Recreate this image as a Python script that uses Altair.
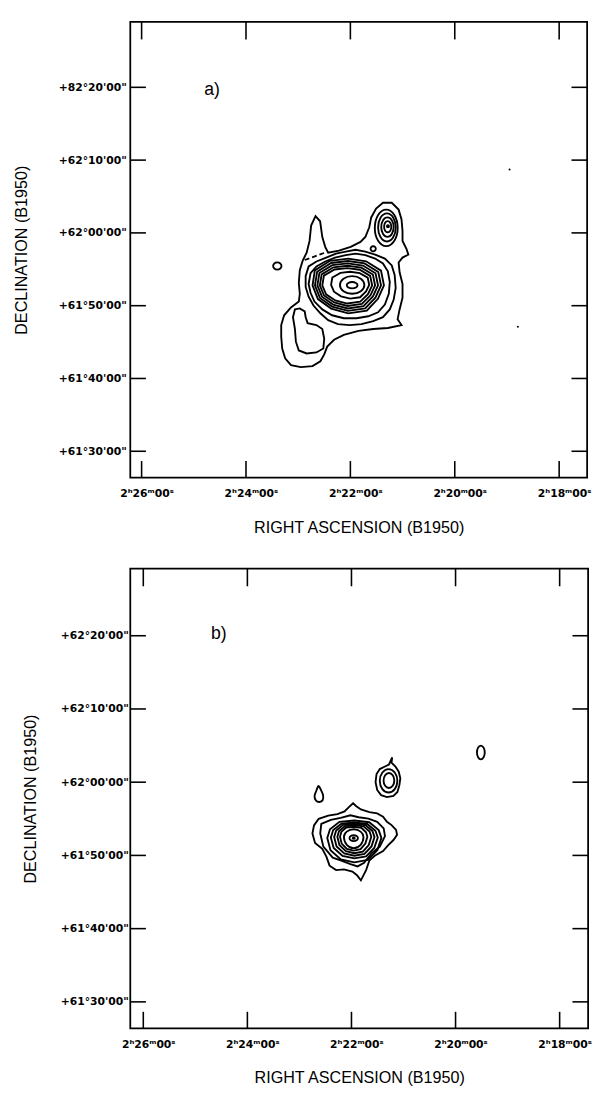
import json
import altair as alt
import pandas as pd

# ---------------- axis ticks ----------------
RA_TICKS = [26, 24, 22, 20, 18]            # minutes of RA (2h xx m)
RA_LABELS = ["2ʰ26ᵐ00ˢ", "2ʰ24ᵐ00ˢ", "2ʰ22ᵐ00ˢ", "2ʰ20ᵐ00ˢ", "2ʰ18ᵐ00ˢ"]
DEC_TICKS = [30, 40, 50, 60, 70, 80]       # arcmin above +61°
DEC_LABELS_A = ['+61°30\'00"', '+61°40\'00"', '+61°50\'00"', '+62°00\'00"', '+62°10\'00"', '+82°20\'00"']
DEC_LABELS_B = ['+61°30\'00"', '+61°40\'00"', '+61°50\'00"', '+62°00\'00"', '+62°10\'00"', '+62°20\'00"']

# ---------------- panel a contours (RA min, Dec arcmin above 61°) ----------------
A_OUTER = [(22.668,62.300),(22.580,61.600),(22.538,59.435),(22.482,58.091),(22.426,57.285),(22.219,57.554),
           (21.994,58.091),(21.807,58.763),(21.713,59.435),(21.638,60.780),(21.601,62.124),(21.507,63.333),
           (21.376,64.140),(21.207,64.140),(21.076,63.199),(21.020,61.855),(21.001,60.242),(21.001,58.898),
           (20.926,57.822),(20.889,57.016),(21.001,56.613),(21.076,55.941),(21.057,54.597),(21.001,52.984),
           (21.001,51.102),(21.057,49.489),(21.095,48.145),(21.020,47.339),(21.282,46.935),(21.563,46.801),
           (21.844,46.532),(22.126,45.994),(22.313,45.323),(22.444,44.382),(22.501,43.306),(22.575,42.366),
           (22.726,41.694),(22.950,41.559),(23.138,41.828),(23.250,42.769),(23.306,44.113),(23.325,45.726),
           (23.325,47.339),(23.269,48.683),(23.138,49.758),(22.988,50.565),(22.969,51.640),(22.988,53.118),
           (22.969,54.865),(22.913,56.210),(22.838,57.285),(22.782,58.898),(22.752,61.000)]
A_LOBE = [(23.063,49.489),(22.969,49.624),(22.875,49.220),(22.857,48.414),(22.819,47.608),(22.650,47.339),
          (22.538,46.801),(22.501,45.457),(22.519,44.113),(22.650,43.575),(22.838,43.441),(22.988,43.844),
          (23.044,45.054),(23.063,46.801),(23.100,48.414)]
A_L2 = [(22.857,54.059),(22.800,55.403),(22.650,56.075),(22.463,56.613),(22.276,57.151),(22.088,57.419),
        (21.901,57.688),(21.713,57.419),(21.526,57.016),(21.339,56.479),(21.207,55.538),(21.151,54.194),
        (21.132,52.446),(21.170,50.834),(21.245,49.489),(21.376,48.414),(21.563,47.876),(21.788,47.473),
        (22.013,47.339),(22.238,47.473),(22.426,48.011),(22.575,48.952),(22.707,50.027),(22.800,51.237),
        (22.857,52.581)]
A_L3 = [(22.800,52.984),(22.763,54.462),(22.650,55.403),(22.482,56.075),(22.294,56.613),(22.088,56.949),
        (21.901,57.151),(21.713,56.949),(21.526,56.479),(21.376,55.806),(21.282,54.731),(21.245,53.253),
        (21.264,51.640),(21.339,50.161),(21.470,49.086),(21.657,48.548),(21.882,48.280),(22.126,48.280),
        (22.351,48.683),(22.538,49.489),(22.688,50.565),(22.763,51.774)]
A_M1 = [(21.357,52.782),(21.413,54.812),(21.699,56.099),(22.041,56.459),(22.390,56.165),(22.681,54.851),
        (22.725,52.782),(22.622,50.905),(22.369,49.599),(22.041,48.951),(21.685,49.331),(21.472,50.943)]
A_M2 = [(21.413,52.782),(21.465,54.634),(21.730,55.808),(22.046,56.137),(22.369,55.868),(22.637,54.669),
        (22.679,52.782),(22.583,51.070),(22.350,49.878),(22.046,49.287),(21.717,49.633),(21.520,51.105)]
A_M3 = [(21.470,52.782),(21.518,54.456),(21.760,55.517),(22.051,55.814),(22.347,55.571),(22.594,54.488),
        (22.632,52.782),(22.544,51.234),(22.330,50.157),(22.051,49.623),(21.749,49.936),(21.568,51.266)]
A_M4 = [(21.526,52.782),(21.569,54.278),(21.790,55.226),(22.055,55.492),(22.325,55.274),(22.550,54.306),
        (22.585,52.782),(22.505,51.399),(22.309,50.436),(22.055,49.959),(21.780,50.239),(21.615,51.427)]
A_M5 = [(21.582,52.782),(21.621,54.100),(21.821,54.935),(22.060,55.169),(22.304,54.978),(22.507,54.125),
        (22.538,52.782),(22.466,51.564),(22.289,50.716),(22.060,50.295),(21.811,50.542),(21.663,51.588)]
A_M6 = [(21.639,52.849),(21.668,53.846),(21.821,54.479),(22.004,54.655),(22.190,54.511),(22.346,53.865),
        (22.370,52.849),(22.314,51.927),(22.179,51.285),(22.004,50.967),(21.814,51.154),(21.700,51.946)]
A_M7 = [(21.732,52.849),(21.800,53.704),(21.966,54.059),(22.132,53.704),(22.200,52.849),(22.132,51.994),
        (21.966,51.639),(21.800,51.994)]
A_M8 = [(21.863,52.816),(21.893,53.125),(21.966,53.253),(22.039,53.125),(22.069,52.816),(22.039,52.507),
        (21.966,52.379),(21.893,52.507)]
A_N1 = [(21.532,60.69),(21.468,62.46),(21.313,63.20),(21.158,62.46),(21.094,60.69),(21.158,58.92),(21.313,58.18),(21.468,58.92)]
A_N2 = [(21.469,60.75),(21.420,62.11),(21.300,62.68),(21.180,62.11),(21.131,60.75),(21.180,59.39),(21.300,58.82),(21.420,59.39)]
A_N3 = [(21.409,60.80),(21.374,61.75),(21.290,62.14),(21.206,61.75),(21.171,60.80),(21.206,59.85),(21.290,59.46),(21.374,59.85)]
A_N4 = [(21.354,60.85),(21.334,61.39),(21.285,61.61),(21.236,61.39),(21.216,60.85),(21.236,60.31),(21.285,60.09),(21.334,60.31)]
A_N5 = [(21.300,60.90),(21.280,61.05),(21.260,60.90),(21.280,60.75)]
A_KNOT = [(23.480,55.45),(23.457,55.80),(23.400,55.95),(23.343,55.80),(23.320,55.45),(23.343,55.10),(23.400,54.95),(23.457,55.10)]
A_BLOB = [(21.613,57.82),(21.598,58.07),(21.563,58.17),(21.528,58.07),(21.513,57.82),(21.528,57.57),(21.563,57.47),(21.598,57.57)]
A_DASH = [(22.875,56.28),(22.669,56.81),(22.463,57.35)]
A_SPECK_RA = [18.95, 18.79]
A_SPECK_DEC = [68.7, 47.1]

# ---------------- panel b contours ----------------
B_OUTER = [(21.970,57.12),(21.907,56.72),(21.819,56.28),(21.656,55.92),(21.506,55.74),(21.393,55.30),(21.318,54.59),
           (21.230,54.14),(21.143,53.48),(21.124,52.81),(21.193,52.10),(21.293,51.40),(21.393,50.60),(21.544,50.00),
           (21.656,49.30),(21.719,48.00),(21.819,46.60),(21.894,47.30),(21.982,47.80),(22.145,48.10),(22.295,48.00),
           (22.421,48.60),(22.480,49.80),(22.560,50.90),(22.700,51.70),(22.750,53.00),(22.720,54.10),(22.630,55.00),
           (22.446,55.43),(22.270,55.65),(22.133,56.01),(22.045,56.63)]
B_L2 = [(22.580,54.30),(22.396,54.85),(22.208,55.12),(22.020,55.48),(21.863,55.21),(21.675,55.03),(21.506,54.59),
        (21.381,53.70),(21.356,52.63),(21.456,51.20),(21.612,50.30),(21.757,49.00),(21.882,48.50),(22.020,48.80),
        (22.195,49.30),(22.360,49.70),(22.540,51.20),(22.600,53.00)]
B_R3 = [(21.425,52.39),(21.477,53.46),(21.659,54.53),(21.945,54.77),(22.231,54.58),(22.413,53.58),(22.465,52.39),
        (22.403,50.72),(22.205,49.46),(21.945,49.06),(21.685,49.39),(21.503,50.72)]
B_R4 = [(21.494,52.45),(21.539,53.37),(21.697,54.29),(21.945,54.49),(22.193,54.33),(22.351,53.47),(22.396,52.45),
        (22.342,51.02),(22.171,49.93),(21.945,49.59),(21.719,49.87),(21.562,51.02)]
B_R5 = [(21.557,52.50),(21.596,53.32),(21.732,54.14),(21.945,54.32),(22.158,54.18),(22.294,53.41),(22.333,52.50),
        (22.286,51.23),(22.139,50.26),(21.945,49.95),(21.751,50.20),(21.615,51.23)]
B_R6 = [(21.619,52.54),(21.652,53.26),(21.766,53.98),(21.945,54.14),(22.124,54.01),(22.238,53.34),(22.271,52.54),
        (22.232,51.42),(22.108,50.57),(21.945,50.30),(21.782,50.52),(21.668,51.42)]
B_R7 = [(21.694,52.56),(21.720,53.17),(21.812,53.78),(21.957,53.92),(22.102,53.81),(22.194,53.24),(22.220,52.56),
        (22.188,51.61),(22.089,50.89),(21.957,50.66),(21.825,50.85),(21.733,51.61)]
B_R8 = [(21.769,52.50),(21.824,53.25),(21.957,53.57),(22.090,53.25),(22.145,52.50),(22.090,51.45),(21.957,51.00),(21.824,51.45)]
B_R9 = [(21.876,52.36),(21.900,52.64),(21.957,52.76),(22.014,52.64),(22.038,52.36),(22.014,52.08),(21.957,51.96),(21.900,52.08)]
B_R10 = [(21.977,52.36),(21.957,52.46),(21.937,52.36),(21.957,52.26)]
B_NW1 = [(21.218,63.39),(21.230,62.67),(21.155,62.14),(21.092,61.43),(21.061,60.54),(21.080,59.56),(21.117,58.67),
         (21.193,58.14),(21.318,57.96),(21.431,58.23),(21.506,58.94),(21.537,60.01),(21.518,61.12),(21.456,61.79),
         (21.356,62.14),(21.280,62.41)]
B_NW2 = [(21.456,60.19),(21.406,61.32),(21.287,61.79),(21.168,61.32),(21.118,60.19),(21.168,59.06),(21.287,58.59),(21.406,59.06)]
B_NW3 = [(21.383,60.23),(21.353,60.95),(21.280,61.25),(21.207,60.95),(21.177,60.23),(21.207,59.51),(21.280,59.21),(21.353,59.51)]
B_DROP = [(22.634,59.48),(22.584,58.90),(22.546,58.23),(22.552,57.56),(22.615,57.30),(22.684,57.52),(22.709,58.14),(22.671,58.90)]
B_FAR = [(19.589,64.05),(19.567,64.72),(19.514,65.00),(19.461,64.72),(19.439,64.05),(19.461,63.40),(19.514,63.12),(19.567,63.40)]


def contour_frame(named):
    rows = []
    for cid, (kind, pts) in named.items():
        for i, (ra, dec) in enumerate(pts):
            rows.append({"cid": cid, "kind": kind, "i": i, "ra": ra, "dec": dec})
    return pd.DataFrame(rows)


A_DF = contour_frame({
    "outer": ("lin", A_OUTER), "lobe": ("lin", A_LOBE), "l2": ("lin", A_L2), "l3": ("lin", A_L3),
    "m1": ("lin", A_M1), "m2": ("lin", A_M2), "m3": ("lin", A_M3), "m4": ("lin", A_M4),
    "m5": ("lin", A_M5), "m6": ("lin", A_M6), "m7": ("smo", A_M7), "m8": ("smo", A_M8),
    "n1": ("smo", A_N1), "n2": ("smo", A_N2), "n3": ("smo", A_N3), "n4": ("smo", A_N4), "n5": ("smo", A_N5),
    "knot": ("smo", A_KNOT), "blob": ("smo", A_BLOB),
})
B_DF = contour_frame({
    "outer": ("lin", B_OUTER), "l2": ("lin", B_L2), "r3": ("lin", B_R3), "r4": ("lin", B_R4),
    "r5": ("lin", B_R5), "r6": ("lin", B_R6), "r7": ("lin", B_R7), "r8": ("smo", B_R8),
    "r9": ("smo", B_R9), "r10": ("smo", B_R10), "nw1": ("lin", B_NW1), "nw2": ("smo", B_NW2),
    "nw3": ("smo", B_NW3), "drop": ("smo", B_DROP), "far": ("smo", B_FAR),
})


def lab_expr(vals, labs):
    expr = "''"
    for v, l in zip(reversed(vals), reversed(labs)):
        expr = f"datum.value == {v} ? {json.dumps(l, ensure_ascii=False)} : {expr}"
    return expr


def panel(df, letter, letter_pos, w, h, xdom, ydom, dec_labels, ylab_pad, ytitle_pad, xtitle_pad,
          dash=None, specks=None):
    X = alt.X("ra:Q", scale=alt.Scale(domain=xdom, reverse=True, nice=False, zero=False),
              axis=alt.Axis(values=RA_TICKS, labelExpr=lab_expr(RA_TICKS, RA_LABELS),
                            title="RIGHT ASCENSION (B1950)", labelPadding=10, titlePadding=xtitle_pad,
                            labelOffset=5, ticks=False, tickSize=0, domain=False, grid=False,
                            labelFlush=False))
    Y = alt.Y("dec:Q", scale=alt.Scale(domain=ydom, nice=False, zero=False),
              axis=alt.Axis(values=DEC_TICKS, labelExpr=lab_expr(DEC_TICKS, dec_labels),
                            title="DECLINATION (B1950)", labelPadding=ylab_pad, titlePadding=ytitle_pad,
                            ticks=False, tickSize=0, domain=False, grid=False, labelFlush=False,
                            labelOverlap=False))
    base = alt.Chart(df)
    lin = base.transform_filter(alt.datum.kind == "lin").mark_line(
        interpolate="linear-closed", color="black", strokeWidth=1.9).encode(
        x=X, y=Y, detail="cid:N", order="i:Q")
    smo = base.transform_filter(alt.datum.kind == "smo").mark_line(
        interpolate="cardinal-closed", color="black", strokeWidth=1.9).encode(
        x=X, y=Y, detail="cid:N", order="i:Q")
    ra_df = pd.DataFrame({"ra": RA_TICKS})
    dec_df = pd.DataFrame({"dec": DEC_TICKS})
    bt = alt.Chart(ra_df).mark_rule(color="black", strokeWidth=1.6).encode(
        x=X, y=alt.value(h), y2=alt.value(h - 17))
    tt = alt.Chart(ra_df).mark_rule(color="black", strokeWidth=1.6).encode(
        x=X, y=alt.value(0), y2=alt.value(18))
    lt = alt.Chart(dec_df).mark_rule(color="black", strokeWidth=1.6).encode(
        y=Y, x=alt.value(0), x2=alt.value(16))
    rt = alt.Chart(dec_df).mark_rule(color="black", strokeWidth=1.6).encode(
        y=Y, x=alt.value(w - 16), x2=alt.value(w))
    txt = alt.Chart(pd.DataFrame({"ra": [letter_pos[0]], "dec": [letter_pos[1]], "t": [letter]})).mark_text(
        font="Liberation Sans", fontSize=18, color="black").encode(x=X, y=Y, text="t:N")
    layers = [lin, smo, bt, tt, lt, rt, txt]
    if dash is not None:
        ddf = pd.DataFrame({"i": list(range(len(dash))), "ra": [p[0] for p in dash], "dec": [p[1] for p in dash]})
        layers.append(alt.Chart(ddf).mark_line(color="black", strokeWidth=1.8, strokeDash=[5, 3]).encode(
            x=X, y=Y, order="i:Q"))
    if specks is not None:
        sdf = pd.DataFrame({"ra": specks[0], "dec": specks[1]})
        layers.append(alt.Chart(sdf).mark_point(filled=True, size=4, color="black", opacity=1).encode(x=X, y=Y))
    return alt.layer(*layers).properties(width=w, height=h)


pa = panel(A_DF, "a)", (24.65, 79.6), 467, 466, [17.464, 26.217], [26.37, 89.0], DEC_LABELS_A, 4, 29, 22,
           dash=A_DASH, specks=(A_SPECK_RA, A_SPECK_DEC))
pb = panel(B_DF, "b)", (24.55, 80.2), 468, 470, [17.453, 26.25], [26.37, 89.16], DEC_LABELS_B, 2, 22, 21)

chart = alt.concat(pa, pb, columns=1, spacing=30, align="none").properties(
    padding={"left": 5, "top": 0, "right": 0, "bottom": 0}
).configure_view(stroke="black", strokeWidth=1.8).configure_axis(
    labelFont="DejaVu Sans", labelFontWeight="bold", labelFontSize=11, labelColor="black",
    titleFont="Liberation Sans", titleFontSize=16.5, titleFontWeight="normal", titleColor="black"
)

chart.save("out.html", embed_options={"renderer": "svg", "actions": False})
